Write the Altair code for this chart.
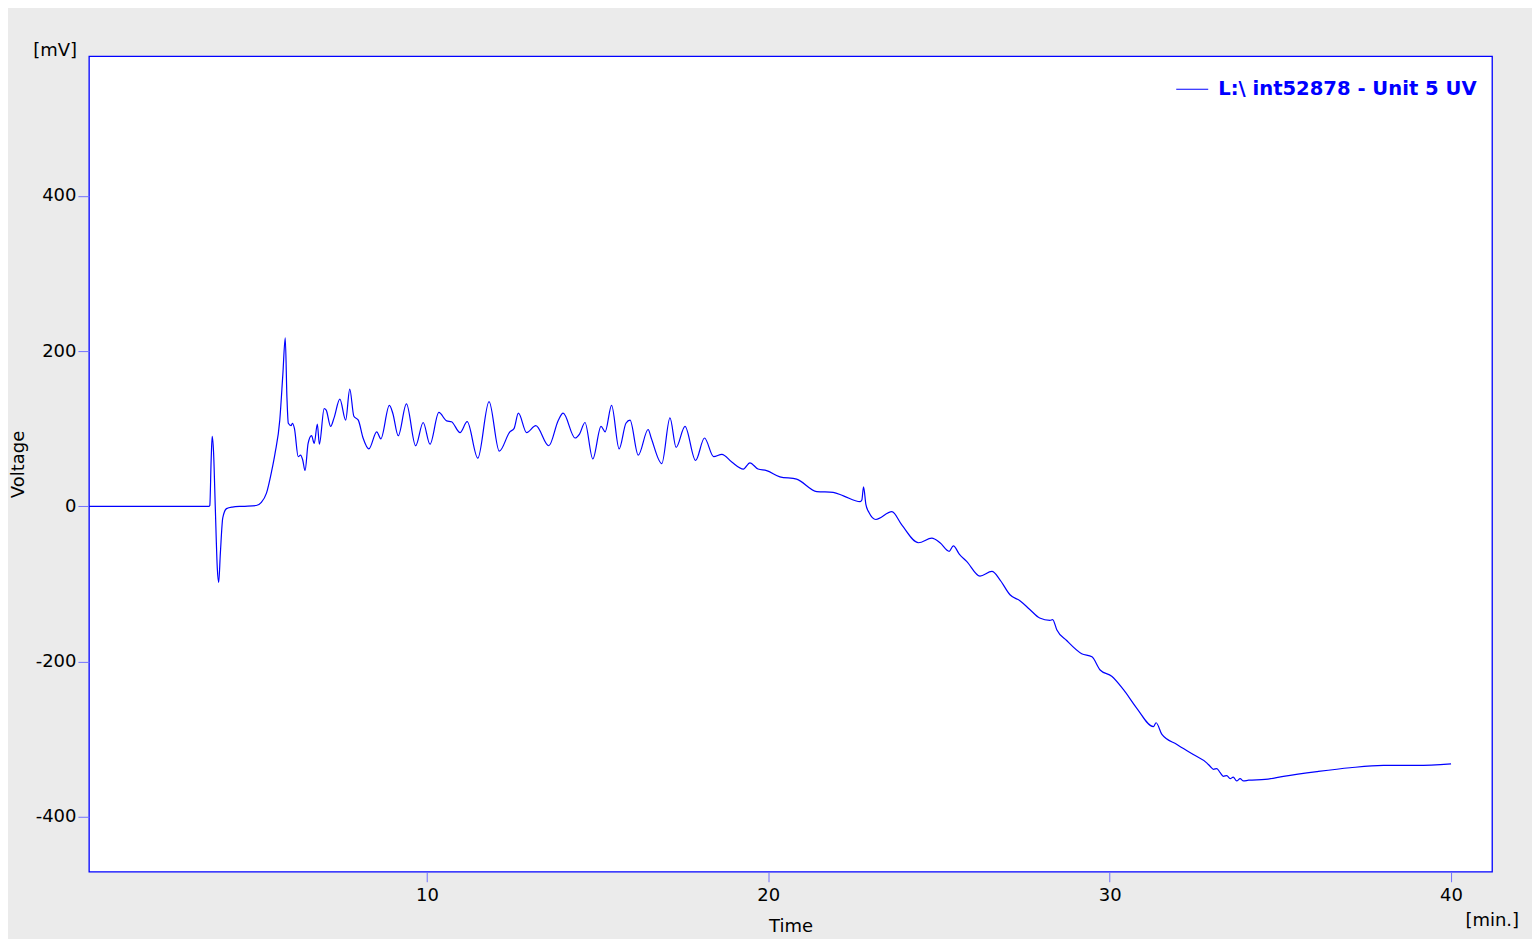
import altair as alt
import pandas as pd

# Time [min.] and Voltage [mV]
time_min = [
    0.1, 3.62, 3.64, 3.68, 3.71, 3.75, 3.80, 3.86, 3.90, 3.95, 4.02, 4.13, 4.3, 4.6,
    5.0, 5.15, 5.30, 5.45, 5.55, 5.69, 5.78, 5.85, 5.90, 5.94, 6.02, 6.06, 6.12, 6.23,
    6.30, 6.36, 6.43, 6.52, 6.62, 6.70, 6.79, 6.85, 6.99, 7.05, 7.18, 7.28, 7.45, 7.62,
    7.74, 7.86, 7.99, 8.13, 8.30, 8.53, 8.65, 8.90, 9.0, 9.16, 9.40, 9.67, 9.89, 10.09,
    10.35, 10.58, 10.72, 10.97, 11.18, 11.49, 11.82, 12.12, 12.43, 12.55, 12.68, 12.92,
    13.19, 13.57, 13.85, 13.99, 14.34, 14.47, 14.63, 14.86, 15.10, 15.22, 15.41, 15.63,
    15.83, 15.95, 16.19, 16.48, 16.57, 16.88, 17.12, 17.30, 17.56, 17.87, 18.13, 18.40,
    18.64, 18.93, 19.27, 19.46, 19.70, 19.95, 20.34, 20.83, 21.42, 21.90, 22.20, 22.69,
    22.74, 22.79, 22.86, 22.95, 23.15, 23.62, 23.91, 24.40, 24.79, 25.03, 25.30, 25.42,
    25.60, 25.81, 26.20, 26.55, 26.79, 27.08, 27.38, 27.66, 27.95, 28.25, 28.33, 28.45,
    28.74, 29.18, 29.48, 29.72, 30.06, 30.40, 30.79, 31.28, 31.36, 31.53, 31.97, 32.45,
    32.85, 32.94, 33.04, 33.14, 33.23, 33.33, 33.43, 33.53, 33.62, 33.72, 33.82, 33.92,
    34.07, 34.55, 35.09, 36.07, 37.04, 38.02, 39.00, 40.0,
]
voltage_mv = [
    0, 0, 1, 60, 90, 70, 0, -80, -98, -60, -15, -3, -1, 0,
    1, 5, 17, 45, 68, 111, 170, 217, 140, 107, 104, 107, 100, 64,
    66, 60, 46, 81, 91, 81, 106, 80, 126, 124, 103, 114, 138, 111,
    151, 116, 111, 88, 74, 96, 87, 130, 120, 91, 132, 78, 108, 80,
    121, 110, 109, 95, 109, 62, 135, 71, 96, 100, 120, 95,
    104, 78, 111, 120, 88, 93, 108, 61, 103, 96, 130, 74,
    107, 111, 66, 99, 88, 55, 114, 76, 103, 59, 88, 64,
    67, 57, 48, 56, 48, 46, 38, 35, 19, 18, 13.5, 6,
    8, 25, 2, -8, -17, -7, -24, -47, -41, -47, -58, -51,
    -62, -71, -90, -84, -95, -114, -122, -133, -144, -147, -146, -159,
    -173, -190, -194, -211, -219, -236, -260, -284, -279, -294, -307, -320,
    -331, -335, -339, -338, -343, -348, -347, -351, -349, -354, -351, -354,
    -353, -352, -348, -342, -337, -334, -334, -332,
]
series_name = "L:\\ int52878 - Unit 5 UV"
x_ticks = [10, 20, 30, 40]
y_ticks = [-400, -200, 0, 200, 400]

df = pd.DataFrame({"Time": time_min, "Voltage": voltage_mv, "series": series_name})

BLUE = "#0000ff"
FONT = "DejaVu Sans"

W, H = 1404, 816

line = alt.Chart(df).mark_line(strokeWidth=1.2, interpolate="monotone", clip=True).encode(
    x=alt.X("Time:Q",
            scale=alt.Scale(domain=[0.1, 41.2], nice=False, zero=False),
            axis=alt.Axis(values=x_ticks, title="Time", grid=False, domain=False,
                          tickColor="#7070ff", tickSize=10, labelPadding=5,
                          labelFont=FONT, labelFontSize=18, labelColor="#000000",
                          titleFont=FONT, titleFontSize=18, titleFontWeight="normal",
                          titleColor="#000000", titleY=55, titleBaseline="middle")),
    y=alt.Y("Voltage:Q",
            scale=alt.Scale(domain=[-471, 580], nice=False, zero=False),
            axis=alt.Axis(values=y_ticks, title="Voltage", grid=False, domain=False,
                          tickColor="#7070ff", tickSize=11, labelPadding=2,
                          labelExpr="datum.value < 0 ? '-' + abs(datum.value) : '' + datum.value",
                          labelFont=FONT, labelFontSize=18, labelColor="#000000",
                          titleFont=FONT, titleFontSize=18, titleFontWeight="normal",
                          titleColor="#000000", titleX=-70, titleBaseline="middle",
                          titleAlign="center")),
    color=alt.Color("series:N",
                    scale=alt.Scale(range=[BLUE]),
                    legend=alt.Legend(title=None, orient="none", legendX=1087, legendY=16,
                                      symbolType="stroke", symbolSize=1024,
                                      symbolStrokeWidth=1.2, labelOffset=9,
                                      labelFont=FONT, labelFontSize=19.6,
                                      labelFontWeight="bold", labelColor=BLUE,
                                      labelLimit=600)),
)

mv_label = alt.Chart(pd.DataFrame({"t": ["[mV]"]})).mark_text(
    font=FONT, fontSize=18, color="#000000", align="right", baseline="middle"
).encode(x=alt.value(-12), y=alt.value(-5), text="t:N")

min_label = alt.Chart(pd.DataFrame({"t": ["[min.]"]})).mark_text(
    font=FONT, fontSize=18, color="#000000", align="right", baseline="middle"
).encode(x=alt.value(W + 27), y=alt.value(H + 49), text="t:N")

chart = alt.layer(line, mv_label, min_label).properties(
    width=W, height=H,
    background="#ebebeb",
    autosize=alt.AutoSizeParams(type="none"),
    padding={"left": 81, "top": 48, "right": 40, "bottom": 67},
).configure_view(
    fill="white", stroke=BLUE, strokeWidth=1.3
)

chart.save("out.html", embed_options={"renderer": "svg", "actions": False})
